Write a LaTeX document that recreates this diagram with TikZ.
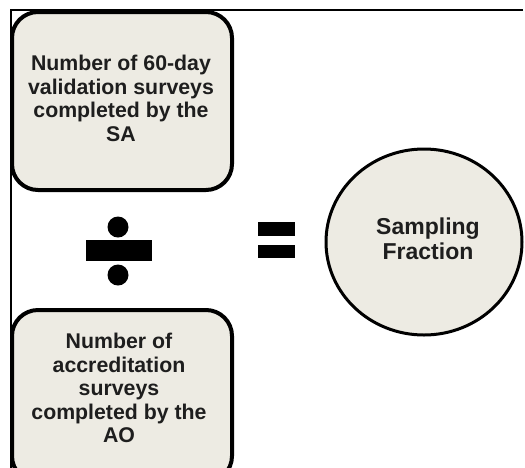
\documentclass[tikz,border=0pt]{standalone}
\usepackage{fontspec}
\setmainfont{Liberation Sans}
\usetikzlibrary{shapes.geometric}
\definecolor{boxfill}{HTML}{EDEBE3}
\definecolor{txt}{HTML}{1E1E1E}
\tikzset{
  card/.style={draw=black, line width=4pt, fill=boxfill, rounded corners=26pt,
    minimum width=220pt, inner sep=0pt},
  cardlabel/.style={align=center, text=txt, inner sep=0pt,
    font={\bfseries\fontsize{21.3pt}{23.5pt}\selectfont\lineskiplimit=-60pt}},
  reslabel/.style={align=center, text=txt, inner sep=0pt,
    font={\bfseries\fontsize{23pt}{25pt}\selectfont\lineskiplimit=-60pt}},
  sign/.style={fill=black},
}
\begin{document}
\begin{tikzpicture}[x=1pt,y=-1pt]
\useasboundingbox (0,0) rectangle (525,467);
\clip (0,0) rectangle (525,467);
\fill[white] (0,0) rectangle (525,467);
% frame
\draw[line width=1.3pt] (523,10) -- (11,10) -- (11,470);
% top card
\node[card, minimum height=178pt] (top) at (122,101) {};
\node[cardlabel] (toptext) at (121,98.5) {Number of 60-day\\validation surveys\\completed by the\\SA};
% bottom card
\node[card, minimum height=172pt] (bot) at (122,396) {};
\node[cardlabel] (bottext) at (119,388) {Number of\\accreditation\\surveys\\completed by the\\AO};
% divide sign
\fill[sign] (118,227) circle (10.5);
\fill[sign] (118,275) circle (10.5);
\fill[sign] (86,240) rectangle (152,261);
% equals sign
\fill[sign] (258,222) rectangle (295,236);
\fill[sign] (258,245) rectangle (295,258);
% result
\node[ellipse, draw=black, line width=3pt, fill=boxfill, minimum width=196pt, minimum height=186pt, inner sep=0pt] (res) at (424,242) {};
\node[reslabel] (restext) at (428,239) {Sampling\\Fraction};
\end{tikzpicture}
\end{document}
